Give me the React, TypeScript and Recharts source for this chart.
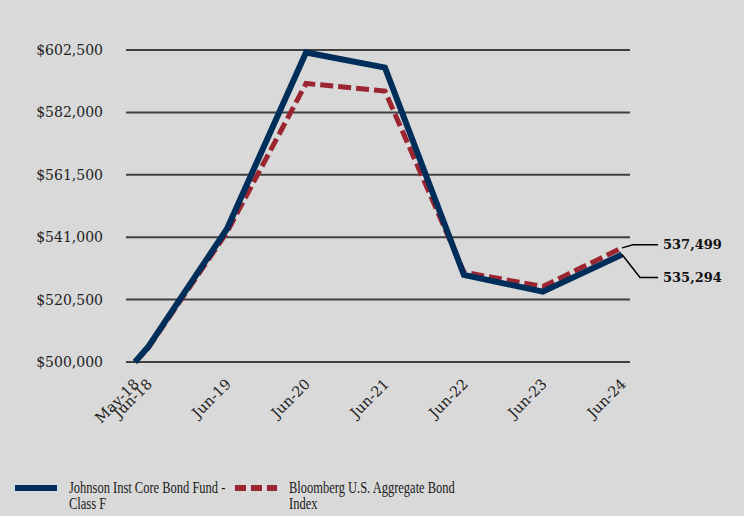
import { LineChart, Line, XAxis, YAxis, CartesianGrid } from 'recharts'

const BG = '#d9d9d9'
const FUND_COLOR = '#002e5b'
const INDEX_COLOR = '#9b2530'

const periods = ['May-18', 'Jun-18', 'Jun-19', 'Jun-20', 'Jun-21', 'Jun-22', 'Jun-23', 'Jun-24']
const periodDates = ['2018-05-01', '2018-06-30', '2019-06-30', '2020-06-30', '2021-06-30', '2022-06-30', '2023-06-30', '2024-06-30']
const fundValues = [500000, 504900, 543700, 601700, 596700, 528600, 523100, 535294]
const indexValues = [500000, 504500, 542600, 591500, 589000, 529500, 524800, 537499]
const yTicks = [500000, 520500, 541000, 561500, 582000, 602500]

const data = periods.map((p, i) => ({
  label: p,
  t: new Date(periodDates[i] + 'T00:00:00Z').getTime(),
  fund: fundValues[i],
  index: indexValues[i],
}))

const labelByTime: Record<number, string> = {}
data.forEach(d => { labelByTime[d.t] = d.label })

const money = (v: number) => '$' + v.toLocaleString('en-US')

function XTick({ x, y, payload }: any) {
  return (
    <g transform={`translate(${x + 5},${y + 15})`}>
      <text x={0} y={0} textAnchor="end" transform="rotate(-45)" fontSize={14.5}
        fontFamily="DejaVu Serif" fill="#222">
        {labelByTime[payload.value]}
      </text>
    </g>
  )
}

// end-of-line callout: short leader line then bold value
function EndLabel({ x, y, index, value, up }: any) {
  if (index !== data.length - 1) return null
  const ty = up ? y - 3 : y + 23
  const bend = up ? x + 11 : x + 18
  return (
    <g>
      <polyline points={`${x},${y} ${bend},${ty} ${x + 36},${ty}`} fill="none" stroke="#000" strokeWidth={1.5} />
      <text x={x + 41} y={ty} dy={4.5} fontSize={13} fontWeight="bold" fontFamily="DejaVu Serif" fill="#111">
        {Number(value).toLocaleString('en-US')}
      </text>
    </g>
  )
}

export default function App() {
  const first = data[0].t
  const last = data[data.length - 1].t
  const legendText = { position: 'absolute' as const, top: 4, transform: 'scaleX(0.78)', transformOrigin: 'left top', whiteSpace: 'nowrap' as const }
  return (
    <div style={{ position: 'absolute', left: 0, top: 0, width: 744, height: 516, background: BG, overflow: 'hidden' }}>
      <LineChart width={744} height={516} data={data} margin={{ top: 50, right: 114, bottom: 84, left: 0 }}>
        <CartesianGrid vertical={false} stroke="#404040" strokeWidth={2} />
        <XAxis dataKey="t" type="number" scale="time" domain={[first, last]} ticks={data.map(d => d.t)} interval={0}
          padding={{ left: 9, right: 8 }} axisLine={false} tickLine={false} tick={<XTick />} height={70} />
        <YAxis domain={[500000, 602500]} ticks={yTicks} tickFormatter={money} axisLine={false} tickLine={false}
          width={126} tickMargin={17} tick={{ fontSize: 14, fontFamily: 'DejaVu Serif', fill: '#222' }} />
        <Line type="linear" dataKey="index" stroke={INDEX_COLOR} strokeWidth={5} strokeDasharray="13 5" dot={false}
          isAnimationActive={false} label={<EndLabel up={true} />} />
        <Line type="linear" dataKey="fund" stroke={FUND_COLOR} strokeWidth={6} dot={false}
          isAnimationActive={false} label={<EndLabel up={false} />} />
      </LineChart>

      <div style={{ position: 'absolute', left: 0, top: 476, width: 744, fontFamily: 'Liberation Serif', fontSize: 16, color: '#1a1a1a', lineHeight: '16px' }}>
        <div style={{ position: 'absolute', left: 15, top: 9, width: 42, height: 6, background: FUND_COLOR }} />
        <div style={{ ...legendText, left: 69 }}>Johnson Inst Core Bond Fund -<br />Class F</div>
        <div style={{ position: 'absolute', left: 235, top: 9, width: 42, height: 6, background: `repeating-linear-gradient(90deg, ${INDEX_COLOR} 0 11px, transparent 11px 16px)` }} />
        <div style={{ ...legendText, left: 289 }}>Bloomberg U.S. Aggregate Bond<br />Index</div>
      </div>
    </div>
  )
}
